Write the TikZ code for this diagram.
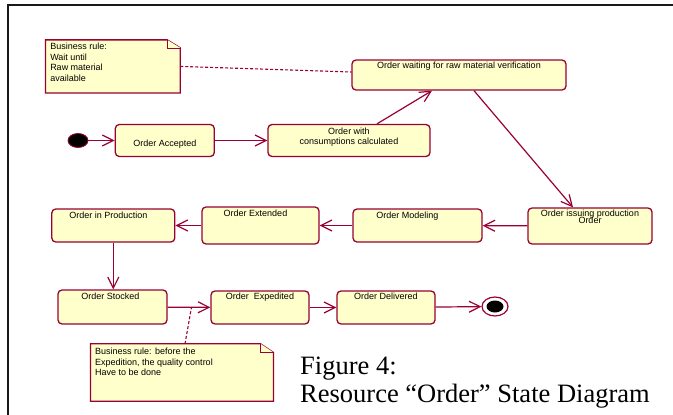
\documentclass[tikz,border=0pt]{standalone}
\usepackage{fontspec}
\setmainfont{Liberation Serif}
\newfontfamily\umlfont{Liberation Sans}
\definecolor{umlColour}{RGB}{153, 0, 51}
\definecolor{umlColour2}{RGB}{255, 255, 204}
\definecolor{frameColour}{RGB}{25, 25, 25}
\usetikzlibrary{
    arrows.meta,
    shapes.geometric
}
\pgfdeclarelayer{background}
\pgfsetlayers{background,main}

\begin{document}
\begin{tikzpicture}[
        x=1pt, y=-1pt,
        statenode/.style={rectangle, rounded corners=4pt, draw=umlColour, fill=umlColour2, line width=1.3pt, inner sep=0pt},
        stateLabel/.style={inner sep=0pt, anchor=north, yshift=-3.5pt, align=center, font=\umlfont\fontsize{9}{10.7}\selectfont},
        notenode/.style={rectangle, inner sep=0pt},
        noteLabel/.style={inner sep=0pt, anchor=north west, xshift=4.5pt, yshift=-3pt, align=left, font=\umlfont\fontsize{9}{10.7}\selectfont},
        noteline/.style={draw=umlColour, fill=umlColour2, line width=1.3pt},
        transition/.style={draw=umlColour, line width=1.2pt, -{Straight Barb[length=11pt, width=11pt]}},
        notelink/.style={draw=umlColour, line width=1.1pt, dash pattern=on 3pt off 2pt},
        caption/.style={inner sep=0pt, align=left, font=\fontsize{26.5}{28}\selectfont},
    ]
    \useasboundingbox (0,0) rectangle (673,415);
    \draw[frameColour, line width=2pt] (8.3,415) -- (8.3,5.3) -- (673,5.3);

    \begin{scope}
        % pseudo states
        \node[ellipse, fill=black, draw=umlColour, line width=0.8pt, minimum width=20pt, minimum height=14pt, inner sep=0pt] (st_init) at (78,140.5) {};
        \node[ellipse, draw=umlColour, fill=white, line width=1.2pt, minimum width=26pt, minimum height=19pt, inner sep=0pt,
            path picture={\fill[black] (path picture bounding box.center) ellipse [x radius=8.5pt, y radius=6pt];}] (st_final) at (495,306.5) {};

        % states
        \node[statenode, minimum width=99pt, minimum height=32pt, label={[stateLabel, yshift=-12pt]north:Order Accepted}] (st_accepted) at (164.8,140.5) {};
        \node[statenode, minimum width=162pt, minimum height=32pt, label={[stateLabel]north:Order with\\consumptions calculated}] (st_consumption) at (349,140.5) {};
        \node[statenode, minimum width=214pt, minimum height=30pt, label={[stateLabel, yshift=1.5pt]north:Order waiting for raw material verification}] (st_waiting) at (459,75) {};
        \node[statenode, minimum width=124pt, minimum height=36pt, label={[stateLabel, yshift=1pt]north:{Order issuing production\\[-3.3pt]Order}}] (st_issuing) at (590,226) {};
        \node[statenode, minimum width=129pt, minimum height=33pt, label={[stateLabel, xshift=-10pt]north:Order Modeling}] (st_modeling) at (417.5,225.5) {};
        \node[statenode, minimum width=117pt, minimum height=37pt, label={[stateLabel, xshift=-5pt]north:Order Extended}] (st_extended) at (260.5,225.5) {};
        \node[statenode, minimum width=123pt, minimum height=33pt, label={[stateLabel, xshift=-5pt]north:Order in Production}] (st_production) at (113.3,225.5) {};
        \node[statenode, minimum width=109pt, minimum height=34pt, label={[stateLabel, xshift=-2pt]north:Order Stocked}] (st_stocked) at (112.5,307) {};
        \node[statenode, minimum width=98pt, minimum height=33pt, label={[stateLabel, yshift=1pt]north:Order\ \ Expedited}] (st_expedited) at (260,307.5) {};
        \node[statenode, minimum width=98pt, minimum height=33pt, label={[stateLabel, yshift=1pt]north:Order Delivered}] (st_delivered) at (386,307.5) {};

        % notes
        \node[notenode, minimum width=134.3pt, minimum height=52.7pt, label={[noteLabel]north west:Business rule:\\Wait until\\Raw material\\available}] (note_wait) at (112.9,66.4) {};
        \node[notenode, minimum width=182.6pt, minimum height=57pt, label={[noteLabel, yshift=-1pt]north west:Business rule: before the\\Expedition, the quality control\\Have to be done}] (note_expedition) at (182,372.5) {};
        \coordinate (rule_pt) at (191.5,307.2);

        \node[caption, anchor=north west] (fig_caption) at (300,357) {Figure 4:\\Resource “Order” State Diagram};
    \end{scope}

    \begin{pgfonlayer}{background}
        \filldraw[noteline] (note_wait.north west) -- ([xshift=-13pt]note_wait.north east) -- ([yshift=-8pt]note_wait.north east) -- (note_wait.south east) -- (note_wait.south west) -- cycle;
        \draw[noteline, line width=0.6pt] ([xshift=-13pt]note_wait.north east) |- ([yshift=-8pt]note_wait.north east);
        \filldraw[noteline] (note_expedition.north west) -- ([xshift=-13pt]note_expedition.north east) -- ([yshift=-8.7pt]note_expedition.north east) -- (note_expedition.south east) -- (note_expedition.south west) -- cycle;
        \draw[noteline, line width=0.6pt] ([xshift=-13pt]note_expedition.north east) |- ([yshift=-8.7pt]note_expedition.north east);
    \end{pgfonlayer}

    \begin{scope}
        \path (st_init) edge[transition] (st_accepted);
        \path (st_accepted) edge[transition] (st_consumption);
        \path ([xshift=28pt]st_consumption.north) edge[transition] ([xshift=-27pt]st_waiting.south);
        \path ([xshift=15pt]st_waiting.south) edge[transition] ([xshift=-17pt]st_issuing.north);
        \path (st_issuing) edge[transition] (st_modeling);
        \path (st_modeling) edge[transition] (st_extended);
        \path (st_extended) edge[transition] (st_production);
        \path (st_production) edge[transition] (st_production |- st_stocked.north);
        \path (st_stocked) edge[transition] (st_expedited);
        \path (st_expedited) edge[transition] (st_delivered);
        \path (st_delivered) edge[transition] (st_final);
        % links to notes
        \path (note_wait.east) edge[notelink] ([yshift=3pt]st_waiting.west);
        \path (note_expedition.north -| 185,0) edge[notelink] (rule_pt);
    \end{scope}
\end{tikzpicture}
\end{document}
